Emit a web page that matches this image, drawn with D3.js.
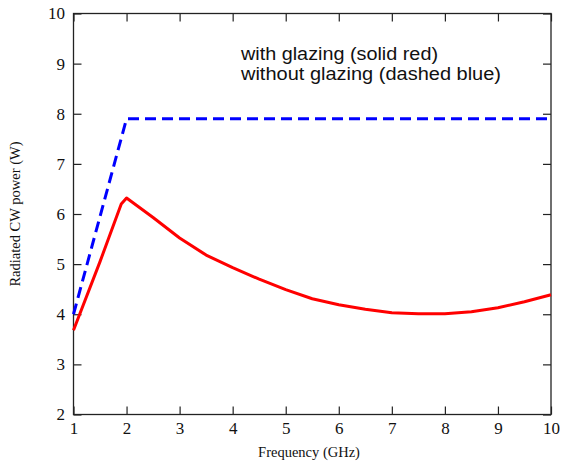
<!DOCTYPE html>
<html>
<head>
<meta charset="utf-8">
<script src="https://cdn.jsdelivr.net/npm/d3@7"></script>
<style>
  html, body { margin: 0; padding: 0; background: #fff; }
  svg { display: block; }
</style>
</head>
<body>
<svg id="chart" width="562" height="463"></svg>
<script>
// Radiated CW power versus frequency
const freqGlazing = [1, 1.5, 1.9, 2, 2.5, 3, 3.5, 4, 4.5, 5, 5.5, 6, 6.5, 7, 7.5, 8, 8.5, 9, 9.5, 10];
const powerGlazing = [3.68, 5.05, 6.2, 6.32, 5.93, 5.52, 5.18, 4.93, 4.7, 4.49, 4.31, 4.19, 4.1, 4.03, 4.01, 4.01, 4.05, 4.13, 4.25, 4.39];
const freqNoGlazing = [1, 2, 10];
const powerNoGlazing = [4.0, 7.9, 7.9];
const xTicks = [1, 2, 3, 4, 5, 6, 7, 8, 9, 10];
const yTicks = [2, 3, 4, 5, 6, 7, 8, 9, 10];
const legendLines = ["with glazing (solid red)", "without glazing (dashed blue)"];

const svg = d3.select("#chart");
const plotLeft = 73.5, plotRight = 551, plotTop = 13.5, plotBottom = 414.5;

const x = d3.scaleLinear().domain([1, 10]).range([plotLeft, plotRight]);
const y = d3.scaleLinear().domain([2, 10]).range([plotBottom, plotTop]);

const serif = "'Liberation Serif', 'Times New Roman', serif";
const sans = "'Liberation Sans', Arial, Helvetica, sans-serif";
const tickLen = 8;

function styleAxis(g, showLabels) {
  g.attr("font-family", serif).attr("font-size", 17);
  g.select(".domain").remove();
  g.selectAll(".tick line").attr("stroke", "#222").attr("stroke-width", 1.2);
  g.selectAll(".tick text")
    .attr("fill", "#111")
    .style("font-family", serif)
    .style("font-size", "17px");
  if (!showLabels) g.selectAll(".tick text").remove();
}

// bottom axis
svg.append("g")
  .attr("transform", `translate(0,${plotBottom})`)
  .call(d3.axisBottom(x).tickValues(xTicks).tickFormat(d3.format("d"))
    .tickSizeInner(-tickLen).tickSizeOuter(0).tickPadding(7))
  .call(g => styleAxis(g, true));

// top axis (ticks only)
svg.append("g")
  .attr("transform", `translate(0,${plotTop})`)
  .call(d3.axisTop(x).tickValues(xTicks).tickSizeInner(-tickLen).tickSizeOuter(0))
  .call(g => styleAxis(g, false));

// left axis
svg.append("g")
  .attr("transform", `translate(${plotLeft},0)`)
  .call(d3.axisLeft(y).tickValues(yTicks).tickFormat(d3.format("d"))
    .tickSizeInner(-tickLen).tickSizeOuter(0).tickPadding(8.5))
  .call(g => styleAxis(g, true));

// right axis (ticks only)
svg.append("g")
  .attr("transform", `translate(${plotRight},0)`)
  .call(d3.axisRight(y).tickValues(yTicks).tickSizeInner(-tickLen).tickSizeOuter(0))
  .call(g => styleAxis(g, false));

// frame
svg.append("rect")
  .attr("x", plotLeft).attr("y", plotTop)
  .attr("width", plotRight - plotLeft).attr("height", plotBottom - plotTop)
  .attr("fill", "none").attr("stroke", "#222").attr("stroke-width", 1.3);

const line = d3.line().x(d => x(d[0])).y(d => y(d[1]));

// without glazing
svg.append("path")
  .datum(freqNoGlazing.map((f, i) => [f, powerNoGlazing[i]]))
  .attr("d", line)
  .attr("fill", "none")
  .attr("stroke", "#0000ff")
  .attr("stroke-width", 3)
  .attr("stroke-dasharray", "11,6");

// with glazing
svg.append("path")
  .datum(freqGlazing.map((f, i) => [f, powerGlazing[i]]))
  .attr("d", line)
  .attr("fill", "none")
  .attr("stroke", "#ff0000")
  .attr("stroke-width", 3)
  .attr("stroke-linejoin", "round");

// annotation, set in a slightly wide sans face
const noteWidths = [197, 260];
svg.append("g")
  .selectAll("text")
  .data(legendLines)
  .join("text")
  .attr("x", 241)
  .attr("y", (d, i) => 60 + i * 20)
  .attr("fill", "#111")
  .attr("textLength", (d, i) => noteWidths[i])
  .attr("lengthAdjust", "spacingAndGlyphs")
  .style("font-family", sans)
  .style("font-size", "17.5px")
  .text(d => d);

// axis titles
svg.append("text")
  .attr("x", 309).attr("y", 457)
  .attr("text-anchor", "middle")
  .attr("fill", "#111")
  .style("font-family", serif)
  .style("font-size", "14.5px")
  .text("Frequency (GHz)");

svg.append("text")
  .attr("transform", `translate(20,${(plotTop + plotBottom) / 2}) rotate(-90)`)
  .attr("text-anchor", "middle")
  .attr("fill", "#111")
  .style("font-family", serif)
  .style("font-size", "14.5px")
  .text("Radiated CW power (W)");
</script>
</body>
</html>
